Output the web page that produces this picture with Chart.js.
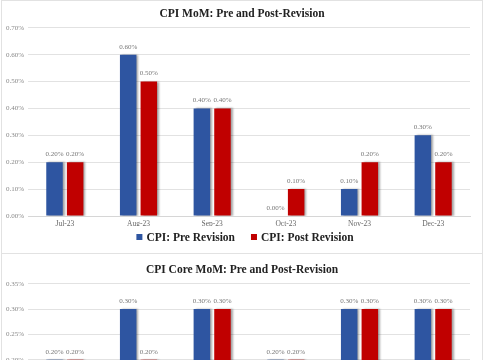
<!DOCTYPE html>
<html>
<head>
<meta charset="utf-8">
<script src="https://cdn.jsdelivr.net/npm/chart.js@4.4.1/dist/chart.umd.min.js"></script>
<style>
  body { margin: 0; background: #fff; }
  #wrap { width: 485px; height: 360px; overflow: hidden; position: relative; }
  .box { position: absolute; left: 1px; width: 482px; border: 1px solid #e2e2e2; box-sizing: border-box; }
  #box1 { top: 0; height: 254px; }
  #box2 { top: 253px; height: 254px; }
</style>
</head>
<body>
<div id="wrap">
  <div class="box" id="box1"><canvas id="cpi"></canvas></div>
  <div class="box" id="box2"><canvas id="core"></canvas></div>
</div>
<script>
var mesi = ['Jul-23', 'Aug-23', 'Sep-23', 'Oct-23', 'Nov-23', 'Dec-23'];
var cpiPre = [0.2, 0.6, 0.4, 0.0, 0.1, 0.3];
var cpiPost = [0.2, 0.5, 0.4, 0.1, 0.2, 0.2];
var corePre = [0.2, 0.3, 0.3, 0.2, 0.3, 0.3];
var corePost = [0.2, 0.2, 0.3, 0.2, 0.3, 0.3];

var blu = '#2e55a1';
var rosso = '#c00000';
var serif = "'Liberation Serif', 'DejaVu Serif', serif";

// ombra leggera sotto le barre
var ombra = {
  id: 'ombra',
  beforeDatasetsDraw: function (chart) {
    var ctx = chart.ctx;
    ctx.save();
    ctx.shadowColor = 'rgba(0,0,0,0.35)';
    ctx.shadowBlur = 2;
    ctx.shadowOffsetX = 2;
    ctx.shadowOffsetY = 0;
  },
  afterDatasetsDraw: function (chart) {
    chart.ctx.restore();
  }
};

// etichette con i valori sopra le barre
var etichette = {
  id: 'etichette',
  afterDatasetsDraw: function (chart) {
    var ctx = chart.ctx;
    ctx.save();
    ctx.font = '7px ' + serif;
    ctx.fillStyle = '#777';
    ctx.textAlign = 'center';
    ctx.textBaseline = 'middle';
    chart.data.datasets.forEach(function (ds, i) {
      chart.getDatasetMeta(i).data.forEach(function (bar, j) {
        ctx.fillText(ds.data[j].toFixed(2) + '%', bar.x, bar.y - 8);
      });
    });
    ctx.restore();
  }
};

// legenda disegnata a mano (serve più spazio tra le voci)
var legenda = {
  id: 'legenda',
  afterDraw: function (chart) {
    var ctx = chart.ctx;
    var ds = chart.data.datasets;
    ctx.save();
    ctx.font = 'bold 11.5px ' + serif;
    ctx.textBaseline = 'middle';
    var quad = 6, spazio = 4, tra = 16;
    var larghezze = ds.map(function (d) { return quad + spazio + ctx.measureText(d.label).width; });
    var tot = larghezze.reduce(function (a, b) { return a + b; }, 0) + tra * (ds.length - 1);
    var x = chart.width / 2 + 3 - tot / 2;
    var y = chart.height - 16;
    ds.forEach(function (d, i) {
      ctx.fillStyle = d.backgroundColor;
      ctx.fillRect(x, y - quad / 2, quad, quad);
      ctx.fillStyle = '#222';
      ctx.fillText(d.label, x + quad + spazio, y + 1);
      x += larghezze[i] + tra;
    });
    ctx.restore();
  }
};

function grafico(id, titolo, nomi, pre, post, max, passo, extraAlto, extraBasso) {
  return new Chart(document.getElementById(id), {
    type: 'bar',
    data: {
      labels: mesi,
      datasets: [
        { label: nomi[0], data: pre, backgroundColor: blu, categoryPercentage: 0.56, barPercentage: 0.8 },
        { label: nomi[1], data: post, backgroundColor: rosso, categoryPercentage: 0.56, barPercentage: 0.8 }
      ]
    },
    options: {
      responsive: false,
      animation: false,
      layout: { padding: { left: 0, right: 0, top: 4 + extraAlto, bottom: 27 + extraBasso } },
      plugins: {
        title: {
          display: true,
          text: titolo,
          color: '#222',
          font: { family: serif, size: 11.5, weight: 'bold' },
          padding: { top: 2, bottom: 7 }
        },
        legend: { display: false },
        tooltip: { enabled: false }
      },
      scales: {
        x: {
          grid: { display: false, drawTicks: false },
          border: { color: '#d6d6d6' },
          afterFit: function (scale) { scale.height = 10; },
          ticks: { color: '#666', font: { family: serif, size: 7.5 }, padding: 4 }
        },
        y: {
          min: 0,
          max: max,
          afterFit: function (scale) { scale.width = 26; },
          grid: { color: '#e2e2e2', drawTicks: false },
          border: { display: false },
          ticks: {
            stepSize: passo,
            color: '#888',
            padding: 4,
            font: { family: serif, size: 7 },
            callback: function (v) { return v.toFixed(2) + '%'; }
          }
        },
        // asse vuoto a destra solo per lo spazio
        destra: {
          position: 'right',
          afterFit: function (scale) { scale.width = 12; },
          grid: { display: false, drawTicks: false },
          border: { display: false },
          ticks: { display: false }
        }
      }
    },
    plugins: [ombra, etichette, legenda]
  });
}

var c1 = document.getElementById('cpi');
c1.width = 480; c1.height = 252;
var c2 = document.getElementById('core');
c2.width = 480; c2.height = 252;

grafico('cpi', 'CPI MoM: Pre and Post-Revision', ['CPI: Pre Revision', 'CPI: Post Revision'], cpiPre, cpiPost, 0.7, 0.1, 0, 0);
grafico('core', 'CPI Core MoM: Pre and Post-Revision', ['CPI Core: Pre Revision', 'CPI Core: Post Revision'], corePre, corePost, 0.35, 0.05, 3, 8);
</script>
</body>
</html>
